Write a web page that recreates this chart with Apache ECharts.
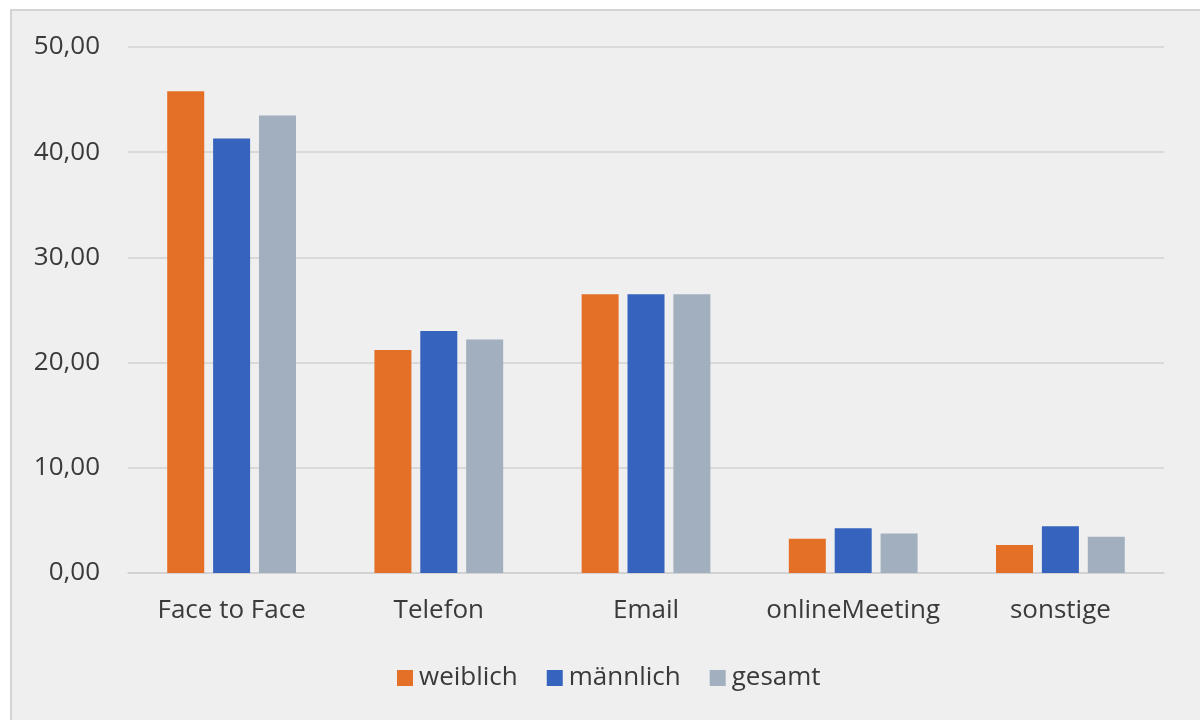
<!DOCTYPE html>
<html>
<head>
<meta charset="utf-8">
<script src="https://cdn.jsdelivr.net/npm/echarts@6/dist/echarts.min.js"></script>
<style>
  html, body { margin: 0; padding: 0; background: #ffffff; }
  #chart { width: 1200px; height: 720px; }
</style>
</head>
<body>
<div id="chart"></div>
<script>
// Kommunikationswege nach Geschlecht (Angaben in Prozent)
const categories = ['Face to Face', 'Telefon', 'Email', 'onlineMeeting', 'sonstige'];
const weiblich = [45.8, 21.2, 26.5, 3.25, 2.65];
const maennlich = [41.3, 23.0, 26.5, 4.25, 4.45];
const gesamt = [43.5, 22.2, 26.5, 3.75, 3.45];
const seriesNames = ['weiblich', 'männlich', 'gesamt'];
const colors = ['#e46f26', '#3563be', '#a2afbf'];

const chart = echarts.init(document.getElementById('chart'), null, { renderer: 'canvas' });
const fontFamily = '"Open Sans", "Noto Sans", sans-serif';
const textColor = '#3a3a3a';

const bar = (name, data, color) => ({
  name, type: 'bar', data,
  barWidth: 37, barGap: '24%',
  itemStyle: { color },
  emphasis: { disabled: true }
});

chart.setOption({
  backgroundColor: '#ffffff',
  animation: false,
  color: colors,
  graphic: [{
    type: 'rect', z: -10, silent: true,
    shape: { x: 11, y: 10, width: 1200, height: 720 },
    style: { fill: '#efefef', stroke: '#d4d4d4', lineWidth: 2 }
  }],
  grid: { left: 128, right: 36, top: 47, bottom: 147, containLabel: false },
  legend: {
    bottom: 24, left: 392,
    itemWidth: 16, itemHeight: 16, itemGap: 29,
    icon: 'rect',
    textStyle: { fontFamily, fontSize: 26, color: textColor, padding: [0, 0, 0, 1] },
    data: seriesNames
  },
  xAxis: {
    type: 'category', data: categories,
    axisLine: { show: true, lineStyle: { color: '#cfcfcf', width: 1.5 } },
    axisTick: { show: false },
    axisLabel: { fontFamily, fontSize: 26, color: textColor, margin: 25, interval: 0 }
  },
  yAxis: {
    type: 'value', min: 0, max: 50, interval: 10,
    axisLine: { show: false },
    axisTick: { show: false },
    splitLine: { lineStyle: { color: '#d2d2d2', width: 1.5 } },
    axisLabel: {
      fontFamily, fontSize: 26, color: textColor, margin: 28,
      formatter: v => v.toFixed(2).replace('.', ',')
    }
  },
  series: [
    bar(seriesNames[0], weiblich, colors[0]),
    bar(seriesNames[1], maennlich, colors[1]),
    bar(seriesNames[2], gesamt, colors[2])
  ]
});
</script>
</body>
</html>
